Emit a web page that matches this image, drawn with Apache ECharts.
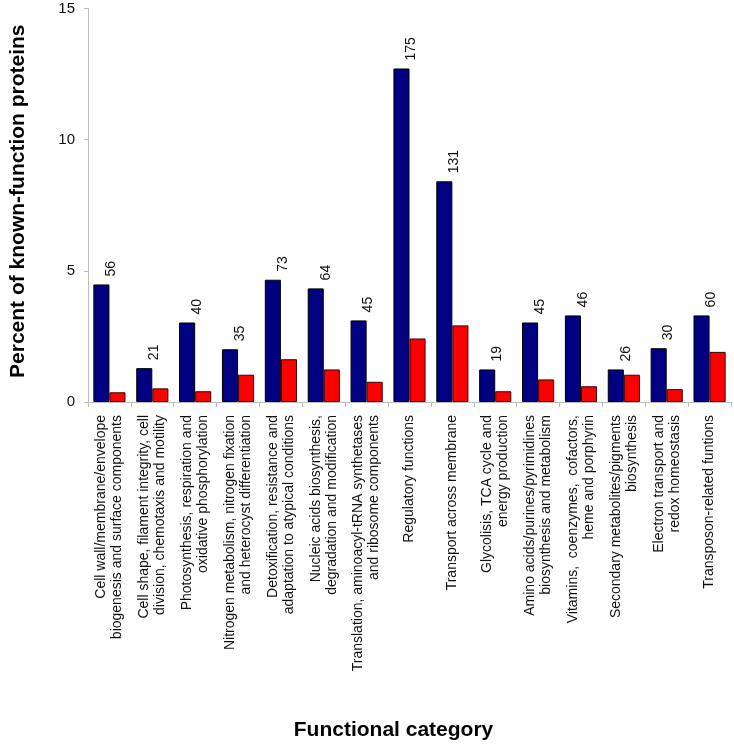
<!DOCTYPE html>
<html>
<head>
<meta charset="utf-8">
<script src="https://cdn.jsdelivr.net/npm/echarts@6/dist/echarts.min.js"></script>
<style>
html,body{margin:0;padding:0;background:#fff;}
#chart{width:734px;height:746px;}
</style>
</head>
<body>
<div id="chart"></div>
<script>
var categories = [
  "Cell wall/membrane/envelope\nbiogenesis and surface components",
  "Cell shape, filament integrity, cell\ndivision, chemotaxis and motility",
  "Photosynthesis, respiration and\noxidative phosphorylation",
  "Nitrogen metabolism, nitrogen fixation\nand heterocyst differentiation",
  "Detoxification, resistance and\nadaptation to atypical conditions",
  "Nucleic acids biosynthesis,\ndegradation and modification",
  "Translation, aminoacyl-tRNA synthetases\nand ribosome components",
  "Regulatory functions",
  "Transport across membrane",
  "Glycolisis, TCA cycle and\nenergy production",
  "Amino acids/purines/pyrimidines\nbiosynthesis and metabolism",
  "Vitamins,  coenzymes,  cofactors,\nheme and porphyrin",
  "Secondary metabolites/pigments\nbiosynthesis",
  "Electron transport and\nredox homeostasis",
  "Transposon-related funtions"
];
var bluePercent = [4.48, 1.29, 3.03, 2.01, 4.66, 4.33, 3.11, 12.71, 8.41, 1.24, 3.03, 3.30, 1.24, 2.05, 3.30];
var redPercent  = [0.37, 0.52, 0.41, 1.04, 1.63, 1.24, 0.77, 2.42, 2.92, 0.41, 0.86, 0.60, 1.04, 0.49, 1.91];
var proteinCounts = [56, 21, 40, 35, 73, 64, 45, 175, 131, 19, 45, 46, 26, 30, 60];
var yTicks = [0, 5, 10, 15];

var chart = echarts.init(document.getElementById('chart'), null, {renderer: 'canvas'});
var FONT = '"Liberation Sans", Arial, sans-serif';

chart.setOption({
  animation: false,
  backgroundColor: '#ffffff',
  grid: {left: 80, right: 3, top: 8.4, bottom: 342.7, containLabel: false},
  xAxis: {
    type: 'category',
    data: categories,
    name: 'Functional category',
    nameLocation: 'middle',
    nameGap: 318,
    nameTextStyle: {fontFamily: FONT, fontSize: 21, fontWeight: 'bold', color: '#000', padding: [0, 32, 0, 0]},
    axisLine: {lineStyle: {color: '#bdbdbd', width: 1}},
    axisTick: {show: true, length: 5, lineStyle: {color: '#bdbdbd'}},
    axisLabel: {
      interval: 0, rotate: 90, margin: 13,
      fontFamily: FONT, fontSize: 14, lineHeight: 16, color: '#111'
    }
  },
  yAxis: {
    type: 'value',
    min: 0, max: 15, interval: 5,
    name: 'Percent of known-function proteins',
    nameLocation: 'middle',
    nameGap: 59,
    nameRotate: 90,
    nameTextStyle: {fontFamily: FONT, fontSize: 21, fontWeight: 'bold', color: '#000', padding: [0, 0, 0, 8]},
    axisLine: {show: true, lineStyle: {color: '#bdbdbd', width: 1}},
    axisTick: {show: true, length: 4, lineStyle: {color: '#bdbdbd'}},
    splitLine: {show: false},
    axisLabel: {
      margin: 13, fontFamily: FONT, fontSize: 15, color: '#111',
      formatter: function (v) { return yTicks.indexOf(v) >= 0 ? String(v) : ''; }
    }
  },
  series: [
    {
      type: 'bar',
      data: bluePercent,
      barCategoryGap: '25%',
      barGap: '0%',
      itemStyle: {color: '#000080', borderColor: '#000000', borderWidth: 1},
      label: {
        show: true,
        position: ['112%', -8],
        rotate: 90,
        align: 'left',
        verticalAlign: 'middle',
        fontFamily: FONT, fontSize: 14, color: '#111',
        formatter: function (p) { return String(proteinCounts[p.dataIndex]); }
      }
    },
    {
      type: 'bar',
      data: redPercent,
      barCategoryGap: '25%',
      barGap: '0%',
      itemStyle: {color: '#ff0000', borderColor: '#3a0000', borderWidth: 1}
    }
  ]
});
</script>
</body>
</html>
